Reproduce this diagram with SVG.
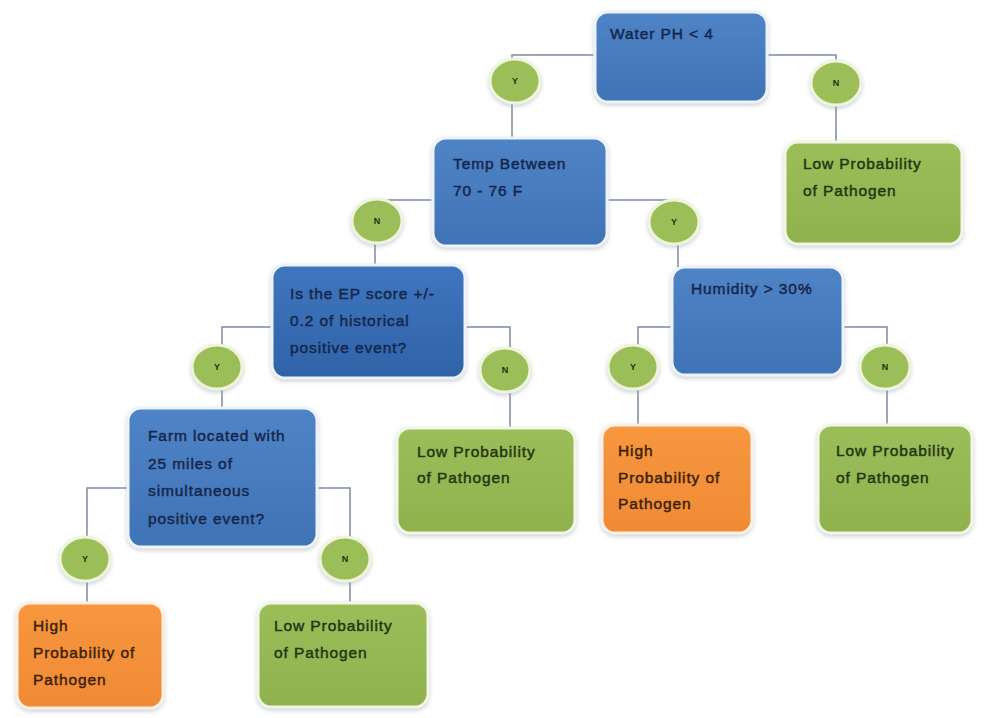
<svg xmlns="http://www.w3.org/2000/svg" width="987" height="718" viewBox="0 0 987 718">
<defs>
<filter id="sh" x="-10%" y="-10%" width="120%" height="130%">
<feDropShadow dx="0" dy="2" stdDeviation="2" flood-color="#9aa4b0" flood-opacity="0.5"/>
</filter>
<linearGradient id="gb" x1="0" y1="0" x2="0" y2="1"><stop offset="0" stop-color="#4f84c6"/><stop offset="1" stop-color="#3f73b6"/></linearGradient>
<linearGradient id="gb2" x1="0" y1="0" x2="0" y2="1"><stop offset="0" stop-color="#3f76be"/><stop offset="1" stop-color="#2f63a8"/></linearGradient>
<linearGradient id="gg" x1="0" y1="0" x2="0" y2="1"><stop offset="0" stop-color="#9cbe5a"/><stop offset="1" stop-color="#8fb24e"/></linearGradient>
<linearGradient id="go" x1="0" y1="0" x2="0" y2="1"><stop offset="0" stop-color="#f7973f"/><stop offset="1" stop-color="#f08a35"/></linearGradient>
</defs>
<style>
.box{stroke:#eef3f9;stroke-width:3;filter:url(#sh)}
.blue{fill:url(#gb)}
.blue2{fill:url(#gb2)}
.green{fill:url(#gg);stroke:#f1f6e6}
.orange{fill:url(#go);stroke:#fdf0e4}
.t{font-family:"Liberation Sans",Arial,sans-serif;font-size:15.5px;letter-spacing:0.9px;stroke-width:0.45px}
.tb{fill:#16264a;stroke:#16264a}
.tg{fill:#243612;stroke:#243612}
.to{fill:#3d2208;stroke:#3d2208}
.el{fill:#9cbe58;stroke:#eef5dc;stroke-width:3;filter:url(#sh)}
.yn{font-family:"Liberation Sans",Arial,sans-serif;font-size:9px;font-weight:bold;fill:#1f3010;text-anchor:middle}
.c{fill:none;stroke:#7d8aa0;stroke-width:1.5}
</style>
<g id="connectors">
<polyline class="c" points="595,55 512,55 512,138"/>
<polyline class="c" points="767,55 836,55 836,142"/>
<polyline class="c" points="433,200 375,200 375,265"/>
<polyline class="c" points="607,200 678,200 678,267"/>
<polyline class="c" points="272,327 222,327 222,408"/>
<polyline class="c" points="465,327 510,327 510,428"/>
<polyline class="c" points="672,327 638,327 638,425"/>
<polyline class="c" points="843,327 887,327 887,425"/>
<polyline class="c" points="128,488 87,488 87,603"/>
<polyline class="c" points="317,488 350,488 350,603"/>
</g>
<g id="labels">
<g id="e1"><ellipse class="el" cx="515" cy="81" rx="25" ry="22"/><text class="yn" x="515" y="84">Y</text></g>
<g id="e2"><ellipse class="el" cx="836" cy="83" rx="25" ry="22"/><text class="yn" x="836" y="86">N</text></g>
<g id="e3"><ellipse class="el" cx="377" cy="221" rx="25" ry="22"/><text class="yn" x="377" y="224">N</text></g>
<g id="e4"><ellipse class="el" cx="674" cy="222" rx="25" ry="22"/><text class="yn" x="674" y="225">Y</text></g>
<g id="e5"><ellipse class="el" cx="217" cy="367" rx="25" ry="22"/><text class="yn" x="217" y="370">Y</text></g>
<g id="e6"><ellipse class="el" cx="505" cy="370" rx="25" ry="22"/><text class="yn" x="505" y="373">N</text></g>
<g id="e7"><ellipse class="el" cx="633" cy="367" rx="25" ry="22"/><text class="yn" x="633" y="370">Y</text></g>
<g id="e8"><ellipse class="el" cx="885" cy="367" rx="25" ry="22"/><text class="yn" x="885" y="370">N</text></g>
<g id="e9"><ellipse class="el" cx="85" cy="559" rx="25" ry="22"/><text class="yn" x="85" y="562">Y</text></g>
<g id="e10"><ellipse class="el" cx="345" cy="559" rx="25" ry="22"/><text class="yn" x="345" y="562">N</text></g>
</g>
<g id="n-water">
<rect class="box blue" x="595" y="12" width="172" height="90" rx="13"/>
<text class="t tb" x="610" y="39">Water PH &lt; 4</text>
</g>
<g id="n-low1">
<rect class="box green" x="785" y="142" width="177" height="102" rx="13"/>
<text class="t tg" x="803" y="169">Low Probability</text>
<text class="t tg" x="803" y="196">of Pathogen</text>
</g>
<g id="n-temp">
<rect class="box blue" x="433" y="138" width="174" height="108" rx="13"/>
<text class="t tb" x="453" y="169">Temp Between</text>
<text class="t tb" x="453" y="196">70 - 76 F</text>
</g>
<g id="n-ep">
<rect class="box blue2" x="272" y="265" width="193" height="113" rx="13"/>
<text class="t tb" x="290" y="299">Is the EP score +/-</text>
<text class="t tb" x="290" y="326">0.2 of historical</text>
<text class="t tb" x="290" y="353">positive event?</text>
</g>
<g id="n-humidity">
<rect class="box blue" x="672" y="267" width="171" height="108" rx="13"/>
<text class="t tb" x="691" y="294">Humidity &gt; 30%</text>
</g>
<g id="n-low2">
<rect class="box green" x="397" y="428" width="178" height="105" rx="13"/>
<text class="t tg" x="417" y="457">Low Probability</text>
<text class="t tg" x="417" y="483">of Pathogen</text>
</g>
<g id="n-high1">
<rect class="box orange" x="602" y="425" width="150" height="108" rx="13"/>
<text class="t to" x="618" y="456">High</text>
<text class="t to" x="618" y="483">Probability of</text>
<text class="t to" x="618" y="509">Pathogen</text>
</g>
<g id="n-low3">
<rect class="box green" x="818" y="425" width="154" height="108" rx="13"/>
<text class="t tg" x="836" y="456">Low Probability</text>
<text class="t tg" x="836" y="483">of Pathogen</text>
</g>
<g id="n-farm">
<rect class="box blue" x="128" y="408" width="189" height="139" rx="13"/>
<text class="t tb" x="148" y="441">Farm located with</text>
<text class="t tb" x="148" y="469">25 miles of</text>
<text class="t tb" x="148" y="496">simultaneous</text>
<text class="t tb" x="148" y="524">positive event?</text>
</g>
<g id="n-high2">
<rect class="box orange" x="17" y="603" width="146" height="105" rx="13"/>
<text class="t to" x="33" y="631">High</text>
<text class="t to" x="33" y="658">Probability of</text>
<text class="t to" x="33" y="685">Pathogen</text>
</g>
<g id="n-low4">
<rect class="box green" x="258" y="603" width="170" height="104" rx="13"/>
<text class="t tg" x="274" y="631">Low Probability</text>
<text class="t tg" x="274" y="658">of Pathogen</text>
</g>
</svg>
